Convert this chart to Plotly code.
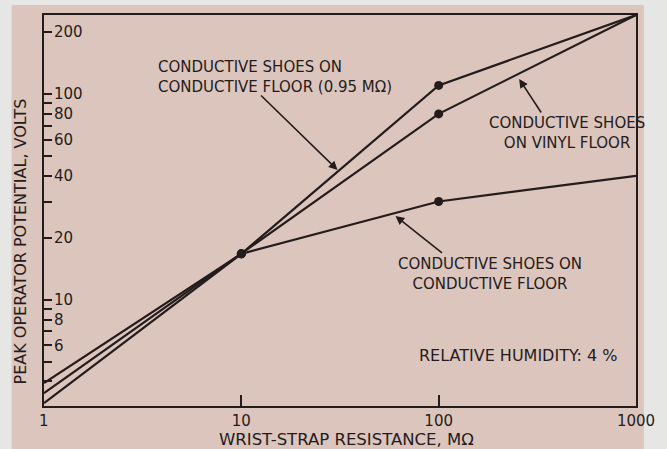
import numpy as np
import plotly.graph_objects as go

# Wrist-strap resistance (MOhm) and peak operator potential (V)
resistance = [1, 10, 100, 1000]
v_floor_095 = [3.14, 16.7, 110, 242]   # conductive shoes on conductive floor (0.95 MOhm)
v_vinyl = [3.51, 16.7, 80, 242]        # conductive shoes on vinyl floor
v_floor = [3.93, 16.7, 30, 40]         # conductive shoes on conductive floor

y_ticks = [4, 5, 6, 7, 8, 9, 10, 20, 30, 40, 50, 60, 70, 80, 90, 100, 200]
y_labels = ["", "", "6", "", "8", "", "10", "20", "", "40", "", "60", "", "80", "", "100", "200"]
x_ticks = [1, 10, 100, 1000]
x_labels = ["1", "10", "100", "1000"]

INK = "#241c1c"
PANEL = "#dcc5bd"
EDGE = "#e6e6e4"
FONT = "DejaVu Sans"

W, H = 667, 449
L, R, T, B = 44, 647, 15, 406


def px_x(x):
    return (x - L) / (R - L)


def px_y(y):
    return (B - y) / (B - T)


fig = go.Figure()

for series in (v_floor_095, v_vinyl, v_floor):
    fig.add_trace(go.Scatter(
        x=resistance, y=series, mode="lines",
        line=dict(color=INK, width=2.2), showlegend=False, hoverinfo="skip"))
    fig.add_trace(go.Scatter(
        x=resistance[1:3], y=series[1:3], mode="markers",
        marker=dict(color=INK, size=9), showlegend=False, hoverinfo="skip"))

annotations = []


def label(text, x, y, xanchor="left", align="left", size=15):
    annotations.append(dict(
        text=text, xref="paper", yref="paper", x=px_x(x), y=px_y(y),
        xanchor=xanchor, yanchor="middle", align=align, showarrow=False,
        font=dict(family=FONT, size=size, color=INK)))


def pointer(tail, tip):
    annotations.append(dict(
        text="", xref="paper", yref="paper", x=px_x(tip[0]), y=px_y(tip[1]),
        ax=tail[0] - tip[0], ay=tail[1] - tip[1], showarrow=True,
        arrowhead=2, arrowsize=1.1, arrowwidth=1.6, arrowcolor=INK))


label("CONDUCTIVE SHOES ON<br>CONDUCTIVE FLOOR (0.95 M\u03a9)", 158, 77)
pointer((265, 94), (343, 170))

label("CONDUCTIVE SHOES<br>ON VINYL FLOOR", 577, 133, xanchor="center", align="center")
pointer((551, 114), (528, 79))

label("CONDUCTIVE SHOES ON<br>CONDUCTIVE FLOOR", 498, 274, xanchor="center", align="center")
pointer((450, 254), (402, 216))

label("RELATIVE HUMIDITY: 4 %", 424, 355, size=16)

# the x-axis label at the left corner is hidden by plotly next to the
# inside y tick labels, so it is placed under the axis here
annotations.append(dict(
    text=x_labels[0], xref="x", yref="paper", x=np.log10(x_ticks[0]), y=0,
    xanchor="center", yanchor="top", yshift=-4, showarrow=False,
    font=dict(family=FONT, size=15, color=INK)))

# axis titles
annotations.append(dict(
    text="WRIST-STRAP RESISTANCE, M\u03a9", xref="paper", yref="paper",
    x=px_x(352), y=px_y(439), xanchor="center", yanchor="middle", showarrow=False,
    font=dict(family=FONT, size=16.5, color=INK)))
annotations.append(dict(
    text="PEAK OPERATOR POTENTIAL, VOLTS", xref="paper", yref="paper",
    x=px_x(21), y=px_y(241), xanchor="center", yanchor="middle", showarrow=False,
    textangle=-90, font=dict(family=FONT, size=16, color=INK)))

fig.update_layout(
    width=W, height=H,
    margin=dict(l=L, r=W - R, t=T, b=H - B),
    paper_bgcolor=EDGE, plot_bgcolor="rgba(0,0,0,0)",
    annotations=annotations,
    shapes=[dict(type="rect", xref="paper", yref="paper", layer="below",
                 x0=px_x(11), x1=px_x(655), y0=px_y(449), y1=px_y(5),
                 fillcolor=PANEL, line=dict(width=0))],
    font=dict(family=FONT, color=INK),
)

fig.update_xaxes(
    type="log", range=[0, 3],
    tickvals=x_ticks, ticktext=x_labels,
    ticks="inside", ticklen=11, tickwidth=1.6, tickcolor=INK,
    tickfont=dict(family=FONT, size=15, color=INK),
    showline=True, linecolor=INK, linewidth=2, mirror=True,
    showgrid=False, zeroline=False)

fig.update_yaxes(
    type="log", range=[np.log10(3.04), np.log10(242)],
    tickvals=y_ticks, ticktext=y_labels,
    ticks="inside", ticklen=8, tickwidth=1.6, tickcolor=INK,
    ticklabelposition="inside", ticklabelstandoff=2,
    tickfont=dict(family=FONT, size=15, color=INK),
    showline=True, linecolor=INK, linewidth=2, mirror=True,
    showgrid=False, zeroline=False)

fig.write_html("out.html")
